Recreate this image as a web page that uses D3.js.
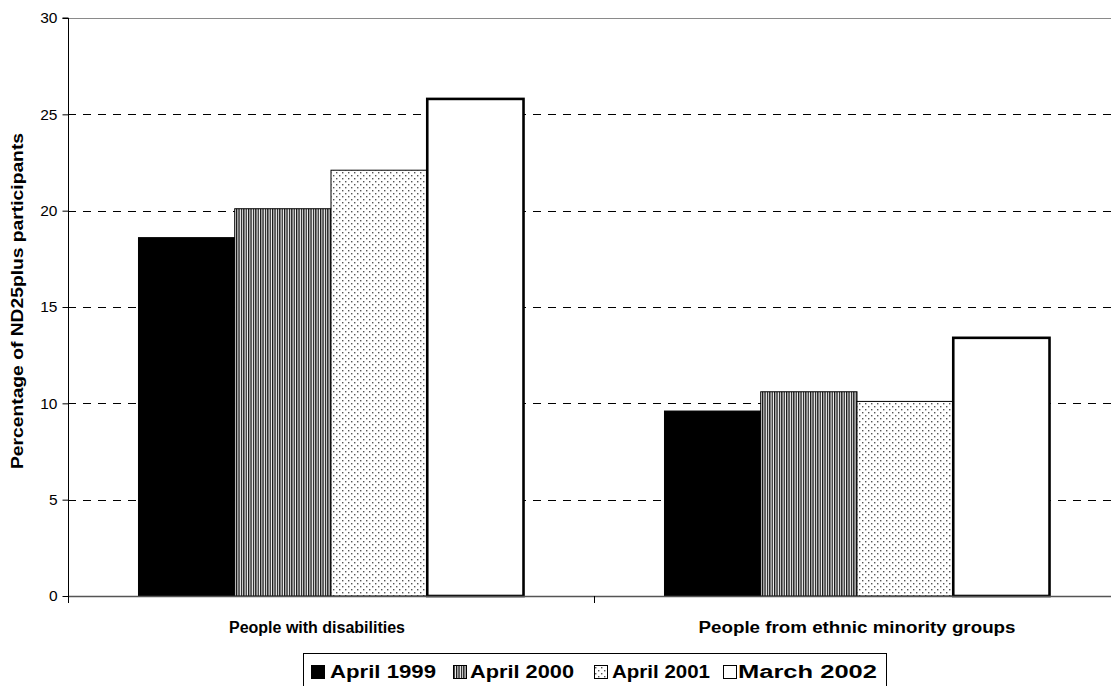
<!DOCTYPE html>
<html>
<head>
<meta charset="utf-8">
<script src="https://cdn.jsdelivr.net/npm/d3@7/dist/d3.min.js"></script>
<style>
  html, body { margin: 0; padding: 0; background: #fff; }
  svg { display: block; font-family: "Liberation Sans", Arial, sans-serif; }
</style>
</head>
<body>
<svg id="chart" width="1111" height="686"></svg>
<script>
// Share of ND25plus participants by group and date
const categories = ["People with disabilities", "People from ethnic minority groups"];
const seriesNames = ["April 1999", "April 2000", "April 2001", "March 2002"];
const april1999 = [18.6, 9.6];
const april2000 = [20.1, 10.6];
const april2001 = [22.1, 10.1];
const march2002 = [25.8, 13.4];
const yTicks = [0, 5, 10, 15, 20, 25, 30];
const yTitle = "Percentage of ND25plus participants";

const seriesValues = [april1999, april2000, april2001, march2002];

const svg = d3.select("#chart");

// plot area (right edge runs past the visible canvas)
const plotL = 68, plotR = 1120, plotT = 18, plotB = 596;

const y = d3.scaleLinear().domain([0, 30]).range([plotB, plotT]);
const x0 = d3.scaleBand().domain(categories).range([plotL, plotR]);
const bw = x0.bandwidth();
const x1 = d3.scaleBand().domain(seriesNames).range([bw * 0.134, bw * 0.866]);

// fill patterns
const defs = svg.append("defs");
const stripes = defs.append("pattern").attr("id", "stripes")
  .attr("patternUnits", "userSpaceOnUse").attr("width", 2.4).attr("height", 4);
stripes.append("rect").attr("width", 2.4).attr("height", 4).attr("fill", "#fff");
stripes.append("rect").attr("width", 1.3).attr("height", 4).attr("fill", "#111");

const dots = defs.append("pattern").attr("id", "dots")
  .attr("patternUnits", "userSpaceOnUse").attr("width", 6).attr("height", 6);
dots.append("rect").attr("width", 6).attr("height", 6).attr("fill", "#fff");
dots.append("rect").attr("x", 1).attr("y", 1).attr("width", 1.4).attr("height", 1.4).attr("fill", "#555");
dots.append("rect").attr("x", 4).attr("y", 4).attr("width", 1.4).attr("height", 1.4).attr("fill", "#555");

const fills = ["#000", "url(#stripes)", "url(#dots)", "#fff"];
const strokeW = [1, 1, 1, 2.6];

// top border of plot area
svg.append("line").attr("x1", plotL).attr("x2", plotR).attr("y1", plotT + 0.5).attr("y2", plotT + 0.5)
  .attr("stroke", "#8a8a8a").attr("stroke-width", 1.2);

// dashed gridlines
svg.append("g").selectAll("line").data(yTicks.filter(t => t > 0 && t < 30)).join("line")
  .attr("x1", plotL).attr("x2", plotR)
  .attr("y1", d => Math.round(y(d)) + 0.5).attr("y2", d => Math.round(y(d)) + 0.5)
  .attr("stroke", "#000").attr("stroke-width", 1).attr("stroke-dasharray", "8,7");

// bars
const groups = svg.append("g").selectAll("g").data(categories).join("g")
  .attr("transform", d => `translate(${x0(d)},0)`);

groups.selectAll("rect").data((c, ci) => seriesNames.map((s, si) => ({ s, si, v: seriesValues[si][ci] })))
  .join("rect")
  .attr("x", d => x1(d.s))
  .attr("width", x1.bandwidth())
  .attr("y", d => y(d.v))
  .attr("height", d => y(0) - y(d.v))
  .attr("fill", d => fills[d.si])
  .attr("stroke", "#000")
  .attr("stroke-width", d => strokeW[d.si]);

// x axis
svg.append("line").attr("x1", plotL).attr("x2", plotR).attr("y1", plotB + 0.5).attr("y2", plotB + 0.5)
  .attr("stroke", "#555").attr("stroke-width", 1.5);
const xTicks = [plotL, plotL + bw, plotR];
svg.append("g").selectAll("line").data(xTicks).join("line")
  .attr("x1", d => d + 0.5).attr("x2", d => d + 0.5)
  .attr("y1", plotB).attr("y2", plotB + 7)
  .attr("stroke", "#000").attr("stroke-width", 1);

// category labels
const catWidths = [176, 317];
const catShift = [-14, 0];
svg.append("g").selectAll("text").data(categories).join("text")
  .attr("x", (d, i) => x0(d) + bw / 2 + catShift[i])
  .attr("y", 633)
  .attr("text-anchor", "middle")
  .attr("font-size", 16)
  .attr("font-weight", "bold")
  .attr("textLength", (d, i) => catWidths[i])
  .attr("lengthAdjust", "spacingAndGlyphs")
  .text(d => d);

// y axis
const yAxis = d3.axisLeft(y).tickValues(yTicks).tickSize(6).tickPadding(5);
const ya = svg.append("g").attr("transform", `translate(${plotL + 0.5},0)`).call(yAxis);
ya.select(".domain").attr("stroke", "#000").attr("d", `M-6,${plotT}H0V${plotB + 7}`);
ya.selectAll(".tick line").attr("stroke", "#000");
ya.selectAll(".tick text").attr("font-size", 15.5).attr("fill", "#000")
  .attr("font-family", "'Liberation Sans', Arial, sans-serif");

// y axis title
svg.append("text")
  .attr("transform", `translate(23,${(132 + 470) / 2}) rotate(-90)`)
  .attr("text-anchor", "middle")
  .attr("font-size", 16)
  .attr("font-weight", "bold")
  .attr("textLength", 336)
  .attr("lengthAdjust", "spacingAndGlyphs")
  .text(yTitle);

// legend
const legend = svg.append("g");
legend.append("rect").attr("x", 303.5).attr("y", 653.5).attr("width", 583).attr("height", 40)
  .attr("fill", "#fff").attr("stroke", "#000").attr("stroke-width", 1);
const legSym = [311, 453, 594, 723];
const legText = [330, 470, 612, 738];
const legLen = [106, 104, 98, 139];
const items = legend.selectAll("g").data(seriesNames).join("g");
items.append("rect")
  .attr("x", (d, i) => legSym[i] + 0.5).attr("y", 665.5)
  .attr("width", 13).attr("height", 13)
  .attr("fill", (d, i) => fills[i]).attr("stroke", "#000").attr("stroke-width", 1);
items.append("text")
  .attr("x", (d, i) => legText[i]).attr("y", 678)
  .attr("font-size", 18).attr("font-weight", "bold")
  .attr("textLength", (d, i) => legLen[i])
  .attr("lengthAdjust", "spacingAndGlyphs")
  .text(d => d);
</script>
</body>
</html>
